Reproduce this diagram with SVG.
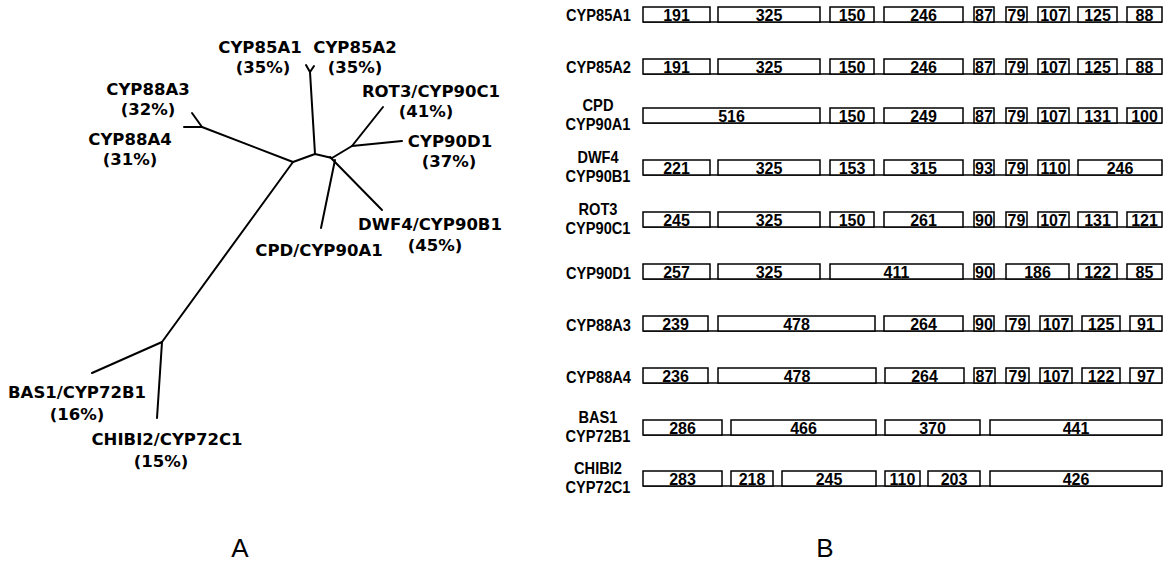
<svg xmlns="http://www.w3.org/2000/svg" width="1168" height="572" viewBox="0 0 1168 572">
<style>
.t{font-family:"DejaVu Sans",sans-serif;font-weight:bold;font-size:16.5px;fill:#000;text-anchor:middle}
.e{stroke:#000;stroke-width:2;fill:none;stroke-linecap:round;stroke-linejoin:round}
.lb{font-family:"Liberation Sans",Arial,sans-serif;font-weight:bold;font-size:17px;fill:#000;text-anchor:end}
.lc{font-family:"Liberation Sans",Arial,sans-serif;font-weight:bold;font-size:17px;fill:#000;text-anchor:middle}
.n{font-family:"Liberation Sans",Arial,sans-serif;font-weight:bold;font-size:16px;fill:#000;text-anchor:middle}
.b{fill:#fff;stroke:#000;stroke-width:1.5}
.base{stroke:#000;stroke-width:1.5}
.big{font-family:"Liberation Sans",Arial,sans-serif;font-size:26px;fill:#000;text-anchor:middle}
</style>
<rect width="1168" height="572" fill="#fff"/>
<!-- Panel A: tree -->
<g id="connectors">
<polyline class="e" points="293,162 315,154 332,158"/>
<polyline class="e" points="315,154 310,72"/>
<polyline class="e" points="306,65 310,72 314,66"/>
<polyline class="e" points="293,162 202,127"/>
<polyline class="e" points="192,113 202,127 184,127"/>
<polyline class="e" points="293,162 162,342"/>
<polyline class="e" points="92,373 162,342 157,418"/>
<polyline class="e" points="332,158 352,146 383,107"/>
<polyline class="e" points="352,146 402,141"/>
<polyline class="e" points="335,160 321,228"/>
<polyline class="e" points="330,157 382,210"/>
</g>
<g id="leaf-cyp85a1"><text class="t" x="260" y="53">CYP85A1</text><text class="t" x="263" y="73">(35%)</text></g>
<g id="leaf-cyp85a2"><text class="t" x="355" y="53">CYP85A2</text><text class="t" x="355" y="73">(35%)</text></g>
<g id="leaf-cyp88a3"><text class="t" x="148" y="95">CYP88A3</text><text class="t" x="148" y="115">(32%)</text></g>
<g id="leaf-cyp88a4"><text class="t" x="130" y="145">CYP88A4</text><text class="t" x="130" y="165">(31%)</text></g>
<g id="leaf-rot3"><text class="t" x="431" y="97">ROT3/CYP90C1</text><text class="t" x="426" y="117">(41%)</text></g>
<g id="leaf-cyp90d1"><text class="t" x="450" y="147">CYP90D1</text><text class="t" x="449" y="167">(37%)</text></g>
<g id="leaf-dwf4"><text class="t" x="430" y="230">DWF4/CYP90B1</text><text class="t" x="435" y="251">(45%)</text></g>
<g id="leaf-cpd"><text class="t" x="319" y="256">CPD/CYP90A1</text></g>
<g id="leaf-bas1"><text class="t" x="77" y="398">BAS1/CYP72B1</text><text class="t" x="77" y="420">(16%)</text></g>
<g id="leaf-chibi2"><text class="t" x="167" y="445">CHIBI2/CYP72C1</text><text class="t" x="161" y="467">(15%)</text></g>
<text class="big" x="240" y="557">A</text>
<!-- Panel B: gene structures -->
<g id="row-cyp85a1">
<text class="lb" x="631" y="21" textLength="65" lengthAdjust="spacingAndGlyphs">CYP85A1</text>
<line class="base" x1="643" y1="22" x2="1162" y2="22"/>
<rect class="b" x="643" y="7" width="67" height="15"/><text class="n" x="676.5" y="21">191</text>
<rect class="b" x="718" y="7" width="102" height="15"/><text class="n" x="769" y="21">325</text>
<rect class="b" x="830" y="7" width="44" height="15"/><text class="n" x="852" y="21">150</text>
<rect class="b" x="884" y="7" width="79" height="15"/><text class="n" x="923.5" y="21">246</text>
<rect class="b" x="974" y="7" width="20" height="15"/><text class="n" x="984" y="21">87</text>
<rect class="b" x="1006" y="7" width="21" height="15"/><text class="n" x="1016.5" y="21">79</text>
<rect class="b" x="1038" y="7" width="31" height="15"/><text class="n" x="1053.5" y="21">107</text>
<rect class="b" x="1078" y="7" width="39" height="15"/><text class="n" x="1097.5" y="21">125</text>
<rect class="b" x="1127" y="7" width="35" height="15"/><text class="n" x="1144.5" y="21">88</text>
</g>
<g id="row-cyp85a2">
<text class="lb" x="631" y="73" textLength="65" lengthAdjust="spacingAndGlyphs">CYP85A2</text>
<line class="base" x1="643" y1="74" x2="1162" y2="74"/>
<rect class="b" x="643" y="59" width="67" height="15"/><text class="n" x="676.5" y="73">191</text>
<rect class="b" x="718" y="59" width="102" height="15"/><text class="n" x="769" y="73">325</text>
<rect class="b" x="830" y="59" width="44" height="15"/><text class="n" x="852" y="73">150</text>
<rect class="b" x="884" y="59" width="79" height="15"/><text class="n" x="923.5" y="73">246</text>
<rect class="b" x="974" y="59" width="20" height="15"/><text class="n" x="984" y="73">87</text>
<rect class="b" x="1006" y="59" width="21" height="15"/><text class="n" x="1016.5" y="73">79</text>
<rect class="b" x="1038" y="59" width="31" height="15"/><text class="n" x="1053.5" y="73">107</text>
<rect class="b" x="1078" y="59" width="39" height="15"/><text class="n" x="1097.5" y="73">125</text>
<rect class="b" x="1127" y="59" width="35" height="15"/><text class="n" x="1144.5" y="73">88</text>
</g>
<g id="row-cpd">
<text class="lc" x="598" y="111" textLength="31" lengthAdjust="spacingAndGlyphs">CPD</text><text class="lc" x="598" y="130" textLength="65" lengthAdjust="spacingAndGlyphs">CYP90A1</text>
<line class="base" x1="643" y1="123" x2="1162" y2="123"/>
<rect class="b" x="643" y="108" width="177" height="15"/><text class="n" x="731.5" y="122">516</text>
<rect class="b" x="830" y="108" width="44" height="15"/><text class="n" x="852" y="122">150</text>
<rect class="b" x="884" y="108" width="79" height="15"/><text class="n" x="923.5" y="122">249</text>
<rect class="b" x="974" y="108" width="20" height="15"/><text class="n" x="984" y="122">87</text>
<rect class="b" x="1006" y="108" width="21" height="15"/><text class="n" x="1016.5" y="122">79</text>
<rect class="b" x="1038" y="108" width="31" height="15"/><text class="n" x="1053.5" y="122">107</text>
<rect class="b" x="1078" y="108" width="39" height="15"/><text class="n" x="1097.5" y="122">131</text>
<rect class="b" x="1127" y="108" width="35" height="15"/><text class="n" x="1144.5" y="122">100</text>
</g>
<g id="row-dwf4">
<text class="lc" x="598" y="163" textLength="41" lengthAdjust="spacingAndGlyphs">DWF4</text><text class="lc" x="598" y="182" textLength="65" lengthAdjust="spacingAndGlyphs">CYP90B1</text>
<line class="base" x1="643" y1="175" x2="1162" y2="175"/>
<rect class="b" x="643" y="160" width="67" height="15"/><text class="n" x="676.5" y="174">221</text>
<rect class="b" x="718" y="160" width="102" height="15"/><text class="n" x="769" y="174">325</text>
<rect class="b" x="830" y="160" width="44" height="15"/><text class="n" x="852" y="174">153</text>
<rect class="b" x="884" y="160" width="79" height="15"/><text class="n" x="923.5" y="174">315</text>
<rect class="b" x="974" y="160" width="20" height="15"/><text class="n" x="984" y="174">93</text>
<rect class="b" x="1006" y="160" width="21" height="15"/><text class="n" x="1016.5" y="174">79</text>
<rect class="b" x="1038" y="160" width="31" height="15"/><text class="n" x="1053.5" y="174">110</text>
<rect class="b" x="1078" y="160" width="84" height="15"/><text class="n" x="1120" y="174">246</text>
</g>
<g id="row-rot3">
<text class="lc" x="598" y="215" textLength="39" lengthAdjust="spacingAndGlyphs">ROT3</text><text class="lc" x="598" y="234" textLength="65" lengthAdjust="spacingAndGlyphs">CYP90C1</text>
<line class="base" x1="643" y1="227" x2="1162" y2="227"/>
<rect class="b" x="643" y="212" width="67" height="15"/><text class="n" x="676.5" y="226">245</text>
<rect class="b" x="718" y="212" width="102" height="15"/><text class="n" x="769" y="226">325</text>
<rect class="b" x="830" y="212" width="44" height="15"/><text class="n" x="852" y="226">150</text>
<rect class="b" x="884" y="212" width="79" height="15"/><text class="n" x="923.5" y="226">261</text>
<rect class="b" x="974" y="212" width="20" height="15"/><text class="n" x="984" y="226">90</text>
<rect class="b" x="1006" y="212" width="21" height="15"/><text class="n" x="1016.5" y="226">79</text>
<rect class="b" x="1038" y="212" width="31" height="15"/><text class="n" x="1053.5" y="226">107</text>
<rect class="b" x="1078" y="212" width="39" height="15"/><text class="n" x="1097.5" y="226">131</text>
<rect class="b" x="1127" y="212" width="35" height="15"/><text class="n" x="1144.5" y="226">121</text>
</g>
<g id="row-cyp90d1">
<text class="lb" x="631" y="279" textLength="65" lengthAdjust="spacingAndGlyphs">CYP90D1</text>
<line class="base" x1="643" y1="279" x2="1162" y2="279"/>
<rect class="b" x="643" y="264" width="67" height="15"/><text class="n" x="676.5" y="278">257</text>
<rect class="b" x="718" y="264" width="102" height="15"/><text class="n" x="769" y="278">325</text>
<rect class="b" x="830" y="264" width="133" height="15"/><text class="n" x="896.5" y="278">411</text>
<rect class="b" x="974" y="264" width="20" height="15"/><text class="n" x="984" y="278">90</text>
<rect class="b" x="1006" y="264" width="63" height="15"/><text class="n" x="1037.5" y="278">186</text>
<rect class="b" x="1078" y="264" width="39" height="15"/><text class="n" x="1097.5" y="278">122</text>
<rect class="b" x="1127" y="264" width="35" height="15"/><text class="n" x="1144.5" y="278">85</text>
</g>
<g id="row-cyp88a3">
<text class="lb" x="631" y="331" textLength="65" lengthAdjust="spacingAndGlyphs">CYP88A3</text>
<line class="base" x1="643" y1="331" x2="1162" y2="331"/>
<rect class="b" x="643" y="316" width="65" height="15"/><text class="n" x="675.5" y="330">239</text>
<rect class="b" x="718" y="316" width="157" height="15"/><text class="n" x="796.5" y="330">478</text>
<rect class="b" x="884" y="316" width="79" height="15"/><text class="n" x="923.5" y="330">264</text>
<rect class="b" x="974" y="316" width="20" height="15"/><text class="n" x="984" y="330">90</text>
<rect class="b" x="1006" y="316" width="23" height="15"/><text class="n" x="1017.5" y="330">79</text>
<rect class="b" x="1040" y="316" width="32" height="15"/><text class="n" x="1056" y="330">107</text>
<rect class="b" x="1082" y="316" width="38" height="15"/><text class="n" x="1101" y="330">125</text>
<rect class="b" x="1130" y="316" width="32" height="15"/><text class="n" x="1146" y="330">91</text>
</g>
<g id="row-cyp88a4">
<text class="lb" x="631" y="383" textLength="65" lengthAdjust="spacingAndGlyphs">CYP88A4</text>
<line class="base" x1="643" y1="383" x2="1162" y2="383"/>
<rect class="b" x="643" y="368" width="65" height="15"/><text class="n" x="675.5" y="382">236</text>
<rect class="b" x="718" y="368" width="158" height="15"/><text class="n" x="797" y="382">478</text>
<rect class="b" x="885" y="368" width="79" height="15"/><text class="n" x="924.5" y="382">264</text>
<rect class="b" x="974" y="368" width="21" height="15"/><text class="n" x="984.5" y="382">87</text>
<rect class="b" x="1006" y="368" width="23" height="15"/><text class="n" x="1017.5" y="382">79</text>
<rect class="b" x="1040" y="368" width="32" height="15"/><text class="n" x="1056" y="382">107</text>
<rect class="b" x="1082" y="368" width="38" height="15"/><text class="n" x="1101" y="382">122</text>
<rect class="b" x="1130" y="368" width="32" height="15"/><text class="n" x="1146" y="382">97</text>
</g>
<g id="row-bas1">
<text class="lc" x="598" y="423" textLength="39" lengthAdjust="spacingAndGlyphs">BAS1</text><text class="lc" x="598" y="442" textLength="65" lengthAdjust="spacingAndGlyphs">CYP72B1</text>
<line class="base" x1="643" y1="435" x2="1162" y2="435"/>
<rect class="b" x="643" y="420" width="79" height="15"/><text class="n" x="682.5" y="434">286</text>
<rect class="b" x="731" y="420" width="145" height="15"/><text class="n" x="803.5" y="434">466</text>
<rect class="b" x="885" y="420" width="95" height="15"/><text class="n" x="932.5" y="434">370</text>
<rect class="b" x="990" y="420" width="172" height="15"/><text class="n" x="1076" y="434">441</text>
</g>
<g id="row-chibi2">
<text class="lc" x="598" y="474" textLength="48" lengthAdjust="spacingAndGlyphs">CHIBI2</text><text class="lc" x="598" y="493" textLength="65" lengthAdjust="spacingAndGlyphs">CYP72C1</text>
<line class="base" x1="643" y1="486" x2="1162" y2="486"/>
<rect class="b" x="643" y="471" width="79" height="15"/><text class="n" x="682.5" y="485">283</text>
<rect class="b" x="731" y="471" width="42" height="15"/><text class="n" x="752" y="485">218</text>
<rect class="b" x="782" y="471" width="94" height="15"/><text class="n" x="829" y="485">245</text>
<rect class="b" x="885" y="471" width="35" height="15"/><text class="n" x="902.5" y="485">110</text>
<rect class="b" x="928" y="471" width="52" height="15"/><text class="n" x="954" y="485">203</text>
<rect class="b" x="990" y="471" width="172" height="15"/><text class="n" x="1076" y="485">426</text>
</g>
<text class="big" x="825" y="557">B</text>
</svg>
